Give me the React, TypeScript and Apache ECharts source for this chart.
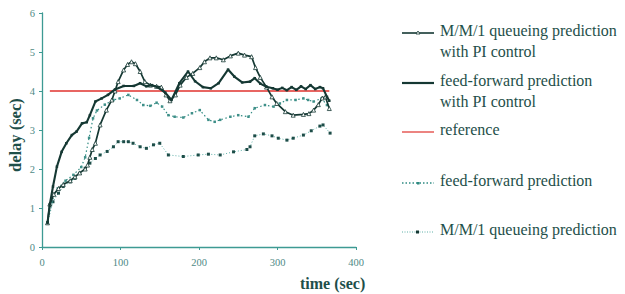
import React, { useEffect, useRef } from "react";
import * as echarts from "echarts";

// feed-forward prediction with PI control
const ffpiX = [7, 10, 14, 19, 25, 31, 38, 44, 51, 57, 61, 68, 76, 84, 93, 104, 117, 125, 133, 140, 147, 157, 165, 175, 186, 195, 205, 215, 225, 237, 245, 255, 265, 271, 278, 286, 294, 300, 306, 312, 318, 324, 330, 336, 342, 348, 354, 358, 363, 366];
const ffpiY = [0.62, 1.1, 1.55, 2.06, 2.44, 2.66, 2.87, 2.96, 3.17, 3.2, 3.38, 3.73, 3.81, 3.9, 4.04, 4.13, 4.13, 4.2, 4.12, 4.15, 4.1, 3.96, 3.77, 4.2, 4.5, 4.25, 4.1, 4.07, 4.2, 4.55, 4.37, 4.22, 4.24, 4.33, 4.19, 4.11, 4.07, 4.03, 4.08, 4.02, 4.1, 4.03, 4.12, 4.05, 4.15, 4.05, 4.1, 4.07, 3.85, 3.75];

// M/M/1 queueing prediction with PI control
const mmpiX = [7, 10, 15, 21, 27, 36, 42, 48, 55, 58, 61, 64, 68, 74, 82, 89, 93, 97, 104, 109, 114, 119, 125, 131, 138, 146, 152, 158, 163, 170, 176, 184, 192, 201, 207, 214, 222, 231, 240, 250, 258, 267, 272, 278, 286, 293, 299, 310, 320, 333, 340, 346, 352, 357, 361, 366];
const mmpiY = [0.62, 1.1, 1.35, 1.5, 1.6, 1.7, 1.8, 1.9, 2.0, 2.1, 2.3, 2.5, 2.66, 3.13, 3.51, 3.77, 4.0, 4.24, 4.54, 4.68, 4.75, 4.7, 4.5, 4.24, 4.15, 4.12, 4.1, 3.9, 3.75, 3.9, 4.15, 4.35, 4.45, 4.6, 4.75, 4.85, 4.85, 4.8, 4.9, 4.97, 4.92, 4.88, 4.6, 4.35, 4.1, 3.85, 3.68, 3.47, 3.38, 3.4, 3.42, 3.51, 3.65, 3.82, 3.85, 3.55];

// reference
const refX = [10, 366];
const refY = [4, 4];

// feed-forward prediction
const ffpX = [7, 12, 20, 30, 40, 50, 55, 60, 65, 70, 80, 91, 99, 110, 121, 129, 138, 146, 153, 161, 169, 180, 191, 201, 212, 220, 227, 240, 250, 263, 271, 284, 295, 303, 312, 323, 333, 339, 346, 356, 363];
const ffpY = [0.62, 1.15, 1.5, 1.7, 1.85, 2.05, 2.3, 2.8, 3.3, 3.5, 3.65, 3.77, 3.81, 3.9, 3.77, 3.64, 3.62, 3.7, 3.6, 3.38, 3.34, 3.32, 3.43, 3.51, 3.26, 3.21, 3.26, 3.34, 3.38, 3.34, 3.56, 3.64, 3.6, 3.68, 3.77, 3.77, 3.81, 3.77, 3.73, 3.81, 3.64];

// M/M/1 queueing prediction
const mmqX = [7, 14, 21, 27, 36, 42, 48, 55, 61, 68, 74, 83, 91, 97, 104, 110, 116, 125, 133, 142, 150, 161, 180, 199, 212, 227, 244, 261, 265, 271, 282, 293, 301, 312, 320, 333, 343, 354, 358, 367];
const mmqY = [0.62, 1.16, 1.38, 1.55, 1.67, 1.76, 1.89, 2.02, 2.15, 2.27, 2.36, 2.45, 2.57, 2.7, 2.7, 2.7, 2.66, 2.57, 2.53, 2.62, 2.66, 2.36, 2.32, 2.36, 2.38, 2.36, 2.44, 2.5, 2.57, 2.85, 2.9, 2.85, 2.79, 2.74, 2.79, 2.87, 2.98, 3.1, 3.13, 2.92];

const seriesNames = [
  "M/M/1 queueing prediction\nwith PI control",
  "feed-forward prediction\nwith PI control",
  "reference",
  "feed-forward prediction",
  "M/M/1 queueing prediction",
];

const xTicks = [0, 100, 200, 300, 400];
const yTicks = [0, 1, 2, 3, 4, 5, 6];

const pair = (xs: number[], ys: number[]) => xs.map((x, i) => [x, ys[i]]);

const TEXT = "#1e4f4a";
const AXIS = "#3d9a93";
const DARK = "#153833";
const RED = "#e0322e";
const SERIF = "Liberation Serif";

export default function App() {
  const ref = useRef<HTMLDivElement>(null);
  useEffect(() => {
    if (!ref.current) return;
    const chart = echarts.init(ref.current, null, { renderer: "svg" });

    const legendRows = [32, 82, 131, 182, 231];
    const graphics: any[] = [];
    legendRows.forEach((y, i) => {
      const parts = seriesNames[i].split("\n");
      parts.forEach((p, j) => {
        graphics.push({
          type: "text",
          left: 440,
          top: y - 10 + j * 21,
          style: { text: p, fontFamily: SERIF, fontSize: 16, fill: TEXT },
        });
      });
    });
    // legend samples
    graphics.push(
      { type: "line", shape: { x1: 402, y1: 33, x2: 434, y2: 33 }, style: { stroke: DARK, lineWidth: 1.6 } },
      { type: "polygon", shape: { points: [[416, 34], [420, 34], [418, 31]] }, style: { fill: "#fff", stroke: DARK, lineWidth: 0.8 } },
      { type: "line", shape: { x1: 402, y1: 83, x2: 434, y2: 83 }, style: { stroke: DARK, lineWidth: 2.2 } },
      { type: "line", shape: { x1: 402, y1: 132, x2: 434, y2: 132 }, style: { stroke: RED, lineWidth: 1.2 } },
      { type: "line", shape: { x1: 402, y1: 183, x2: 434, y2: 183 }, style: { stroke: "#2f8a82", lineWidth: 1.3, lineDash: [1.5, 2] } },
      { type: "rect", shape: { x: 417, y: 182, width: 2.5, height: 2.5 }, style: { fill: "#2f8a82" } },
      { type: "line", shape: { x1: 402, y1: 232, x2: 434, y2: 232 }, style: { stroke: "#5fb0a8", lineWidth: 1, lineDash: [1, 1.5] } },
      { type: "rect", shape: { x: 416, y: 230.5, width: 3, height: 3 }, style: { fill: DARK } },
      {
        type: "text",
        left: 300,
        top: 275,
        style: { text: "time (sec)", fontFamily: SERIF, fontWeight: "bold", fontSize: 16, fill: TEXT },
      },
      {
        type: "text",
        x: 7,
        y: 172,
        rotation: Math.PI / 2,
        style: { text: "delay (sec)", fontFamily: SERIF, fontWeight: "bold", fontSize: 16.5, fill: TEXT },
      }
    );

    chart.setOption({
      animation: false,
      backgroundColor: "#ffffff",
      grid: { left: 42, right: 269, top: 13, bottom: 47 },
      xAxis: {
        type: "value",
        min: xTicks[0],
        max: xTicks[xTicks.length - 1],
        interval: 100,
        splitLine: { show: false },
        axisLine: { lineStyle: { color: AXIS, width: 1.3 } },
        axisTick: { show: true, length: 3, lineStyle: { color: AXIS } },
        axisLabel: { color: "#4f8a86", fontFamily: SERIF, fontSize: 10.5, margin: 10 },
      },
      yAxis: {
        type: "value",
        min: yTicks[0],
        max: yTicks[yTicks.length - 1],
        interval: 1,
        splitLine: { show: false },
        axisLine: { show: true, lineStyle: { color: AXIS, width: 1.3 } },
        axisTick: { show: true, length: 3, lineStyle: { color: AXIS } },
        axisLabel: { color: "#4f8a86", fontFamily: SERIF, fontSize: 10.5, margin: 7 },
      },
      graphic: graphics,
      series: [
        {
          name: seriesNames[2],
          type: "line",
          data: pair(refX, refY),
          symbol: "none",
          lineStyle: { color: RED, width: 1.3 },
          z: 1,
        },
        {
          name: seriesNames[4],
          type: "line",
          data: pair(mmqX, mmqY),
          symbol: "rect",
          symbolSize: 3,
          itemStyle: { color: "#1d4d48" },
          lineStyle: { color: "#5fb0a8", width: 1, type: [1, 2] },
          z: 2,
        },
        {
          name: seriesNames[3],
          type: "line",
          data: pair(ffpX, ffpY),
          symbol: "rect",
          symbolSize: 2.5,
          itemStyle: { color: "#3e8f88" },
          lineStyle: { color: "#2f8a82", width: 1.2, type: [1.5, 2.5] },
          z: 2,
        },
        {
          name: seriesNames[0],
          type: "line",
          data: pair(mmpiX, mmpiY),
          symbol: "triangle",
          symbolSize: 4,
          itemStyle: { color: "#fff", borderColor: DARK, borderWidth: 0.8 },
          lineStyle: { color: DARK, width: 1.7 },
          z: 3,
        },
        {
          name: seriesNames[1],
          type: "line",
          data: pair(ffpiX, ffpiY),
          symbol: "rect",
          symbolSize: 2.5,
          itemStyle: { color: DARK },
          lineStyle: { color: DARK, width: 2.1 },
          z: 4,
        },
      ],
    });
    return () => chart.dispose();
  }, []);
  return (
    <div
      ref={ref}
      style={{ position: "absolute", left: 0, top: 0, width: 625, height: 294 }}
    />
  );
}
